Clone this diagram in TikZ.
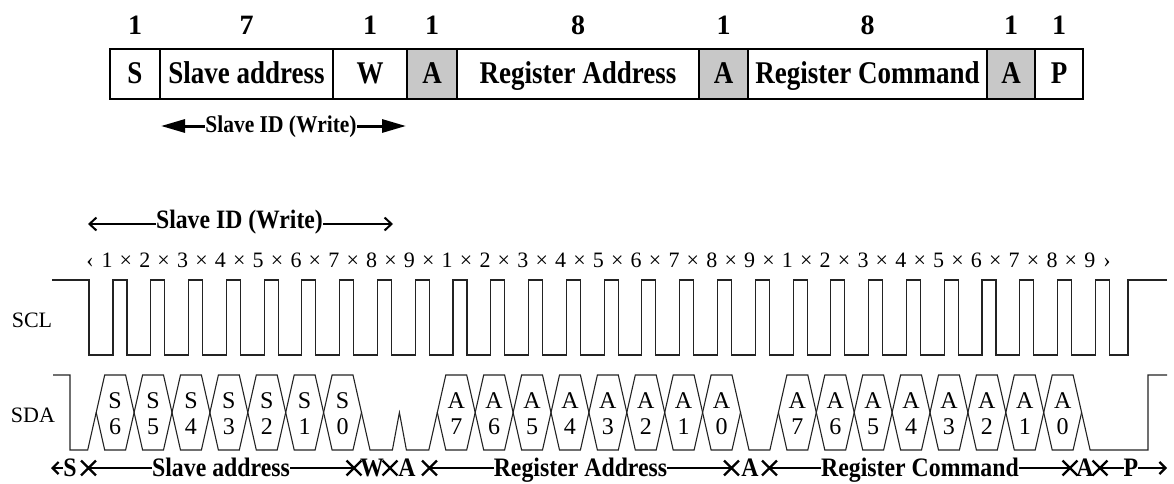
\documentclass[tikz,border=0pt]{standalone}
\usepackage{fontspec}
\usepackage{graphicx}
\setmainfont{Liberation Serif}
\usetikzlibrary{arrows.meta,shapes.misc}
\definecolor{cellgray}{RGB}{200,200,200}
\definecolor{wavec}{RGB}{35,35,35}
\newcommand{\myfs}[1]{\fontsize{#1}{#1}\selectfont}
\newcommand{\vst}[1]{\scalebox{1}[1.17]{#1}}
\newcommand{\vsb}[1]{\scalebox{1}[1.12]{#1}}
\newcommand{\hexbit}[3]{%
  \pgfmathsetmacro\hL{96.2+37.9*(#1-1)}%
  \pgfmathsetmacro\hR{96.2+37.9*#1}%
  \draw[wave] (\hL,412.5) -- ({\hL+8.5},375) -- ({\hR-8.5},375) -- (\hR,412.5) -- ({\hR-8.5},450) -- ({\hL+8.5},450) -- cycle;%
  \node[bitlabel] (b#1) at ({(\hL+\hR)/2},413.5) {#2\\#3};%
}
\begin{document}
\begin{tikzpicture}[x=1pt,y=-1pt,
  cellbox/.style={draw, line width=2pt, minimum height=50pt, inner sep=0pt, text height=20pt, text depth=0pt, font=\bfseries\myfs{27}},
  graycell/.style={cellbox, fill=cellgray},
  bitnum/.style={inner sep=0pt, font=\bfseries\myfs{28}},
  idlabel/.style={inner sep=0pt, font=\bfseries\myfs{#1}},
  bigarrow/.style={line width=3pt, -{Triangle[length=24pt,width=13pt]}},
  thinarrow/.style={line width=2pt, -{Straight Barb[length=7pt,width=13pt]}},
  numrow/.style={inner sep=0pt, text height=15pt, text depth=0pt, font=\myfs{22}},
  wave/.style={draw=wavec, line width=1.1pt, line join=miter},
  sig/.style={inner sep=0pt, font=\myfs{22}},
  bitlabel/.style={inner sep=0pt, align=center, font=\fontsize{24}{26.5}\selectfont},
  lab/.style={inner sep=0pt, text height=16pt, text depth=0pt, font=\bfseries\myfs{23.8}},
  xmark/.style={cross out, draw, line width=2.4pt, minimum size=12.5pt, inner sep=0pt},
  labline/.style={line width=2.2pt},
  labarrow/.style={line width=2.2pt, -{Straight Barb[length=6pt,width=12pt]}}
]
\useasboundingbox (0,0) rectangle (1174,484);

% ---- top frame ----
\node[cellbox, minimum width=50pt]  (cS)  at (135,74)   {\vst{S}};
\node[cellbox, minimum width=173pt] (cSA) at (246.5,74) {\vst{Slave address}};
\node[cellbox, minimum width=74pt]  (cW)  at (370,74)   {\vst{W}};
\node[graycell, minimum width=50pt] (cA1) at (432,74)   {\vst{A}};
\node[cellbox, minimum width=242pt] (cRA) at (578,74)   {\vst{Register Address}};
\node[graycell, minimum width=49pt] (cA2) at (723.5,74) {\vst{A}};
\node[cellbox, minimum width=239pt] (cRC) at (867.5,74) {\vst{Register Command}};
\node[graycell, minimum width=48pt] (cA3) at (1011,74)  {\vst{A}};
\node[cellbox, minimum width=48pt]  (cP)  at (1059,74)  {\vst{P}};

\node[bitnum] (nS)  at (135,25)   {1};
\node[bitnum] (nSA) at (246.5,25) {7};
\node[bitnum] (nW)  at (370,25)   {1};
\node[bitnum] (nA1) at (432,25)   {1};
\node[bitnum] (nRA) at (578,25)   {8};
\node[bitnum] (nA2) at (723.5,25) {1};
\node[bitnum] (nRC) at (867.5,25) {8};
\node[bitnum] (nA3) at (1011,25)  {1};
\node[bitnum] (nP)  at (1059,25)  {1};

\node[idlabel=21.5, text height=13.4pt, text depth=0pt] (sid1) at (281,126) {\vsb{Slave ID (Write)}};
\coordinate (sid1l) at (161,126);
\coordinate (sid1r) at (406,126);
\draw[bigarrow] (sid1.west) -- (sid1l);
\draw[bigarrow] (sid1.east) -- (sid1r);

% ---- timing diagram ----
\node[idlabel=23.7, text height=8pt, text depth=0pt] (sid2) at (239.5,224) {\vsb{Slave ID (Write)}};
\coordinate (sid2l) at (88,224);
\coordinate (sid2r) at (393,224);
\draw[thinarrow] (sid2.west) -- (sid2l);
\draw[thinarrow] (sid2.east) -- (sid2r);

\node[numrow] (nl) at (90,260) {‹};
\node[numrow] (nr) at (1107,260) {›};
\foreach \k in {0,...,26} {
  \pgfmathtruncatemacro\dd{mod(\k,9)+1}
  \node[numrow] (n\k) at ({107+37.8*\k},260) {\dd};
}
\foreach \k in {0,...,25} {
  \node[numrow] (x\k) at ({107+37.8*\k+18.9},260) {×};
}

\node[sig] (scl) at (32,320) {SCL};
\node[sig] (sda) at (33,415) {SDA};

\draw[wave] (52,280) -- (89,280) -- (89,355)
  \foreach \k in {0,...,26} { -- ({113+37.78*\k},355) -- ({113+37.78*\k},280) -- ({127+37.78*\k},280) -- ({127+37.78*\k},355) }
  -- (1128,355) -- (1128,280) -- (1167,280);

\foreach \n/\d in {1/6,2/5,3/4,4/3,5/2,6/1,7/0} { \hexbit{\n}{S}{\d} }
\foreach \n/\d in {10/7,11/6,12/5,13/4,14/3,15/2,16/1,17/0} { \hexbit{\n}{A}{\d} }
\foreach \n/\d in {19/7,20/6,21/5,22/4,23/3,24/2,25/1,26/0} { \hexbit{\n}{A}{\d} }

\draw[wave] (53,375) -- (70,375) -- (70,450) -- (87.7,450) -- (96.2,412.5);
\draw[wave] (361.5,412.5) -- (370,450) -- (392.4,450) -- (399.4,412.5) -- (406.4,450) -- (428.8,450) -- (437.3,412.5);
\draw[wave] (740.5,412.5) -- (749,450) -- (769.9,450) -- (778.4,412.5);
\draw[wave] (1081.6,412.5) -- (1090.1,450) -- (1148,450) -- (1148,375) -- (1167,375);

% ---- bottom field labels ----
\node[lab] (bS)  at (70,468)    {\vsb{S}};
\node[xmark] (bx1) at (88.5,468)  {};
\node[lab] (bSA) at (221,468)   {\vsb{Slave address}};
\node[xmark] (bx2) at (354,468)   {};
\node[lab] (bW)  at (372,468)   {\vsb{W}};
\node[xmark] (bx3) at (390,468)   {};
\node[lab] (bA1) at (407,468)   {\vsb{A}};
\node[xmark] (bx4) at (429.5,468) {};
\node[lab] (bRA) at (580.5,468) {\vsb{Register Address}};
\node[xmark] (bx5) at (731.5,468) {};
\node[lab] (bA2) at (750,468)   {\vsb{A}};
\node[xmark] (bx6) at (769.5,468) {};
\node[lab] (bRC) at (920,468)   {\vsb{Register Command}};
\node[xmark] (bx7) at (1070,468)  {};
\node[lab] (bA3) at (1085,468)  {\vsb{A}};
\node[xmark] (bx8) at (1100,468)  {};
\node[lab] (bP)  at (1131,468)  {\vsb{P}};
\coordinate (bstart) at (51,468);
\coordinate (bend) at (1167,468);

\draw[labarrow] (bS.west) -- (bstart);
\draw[labline] (bx1.center) -- (bSA.west);
\draw[labline] (bSA.east) -- (bx2.center);
\draw[labline] (bx4.center) -- (bRA.west);
\draw[labline] (bRA.east) -- (bx5.center);
\draw[labline] (bx6.center) -- (bRC.west);
\draw[labline] (bRC.east) -- (bx7.center);
\draw[labline] (bx8.center) -- (bP.west);
\draw[labarrow] (bP.east) -- (bend);
\end{tikzpicture}
\end{document}
